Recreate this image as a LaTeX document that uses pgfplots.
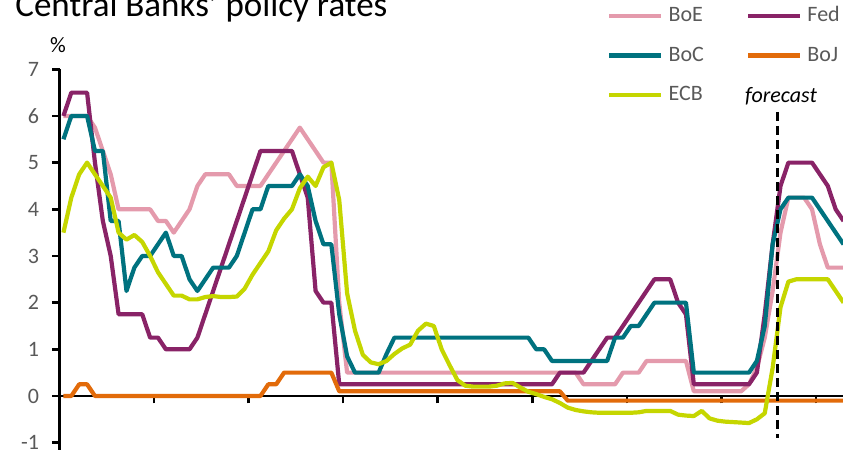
\documentclass[border=0pt]{standalone}
\usepackage{pgfplots}
\pgfplotsset{compat=1.18}
\usepackage{pgfplotstable}
\usepackage{fontspec}
\setmainfont{Carlito}
\definecolor{cboe}{RGB}{228,154,172}
\definecolor{cfed}{RGB}{137,35,103}
\definecolor{cboc}{RGB}{0,114,127}
\definecolor{cboj}{RGB}{226,107,10}
\definecolor{cecb}{RGB}{197,214,0}
\definecolor{tgray}{RGB}{89,89,89}
\pgfplotstableread{
i BoE Fed BoC BoJ ECB
0 6.0 6.0 5.5 0 3.5
1 6.0 6.5 6.0 0 4.25
2 6.0 6.5 6.0 0.25 4.75
3 6.0 6.5 6.0 0.25 5.0
4 5.75 5.0 5.25 0 4.75
5 5.25 3.75 5.25 0 4.5
6 4.75 3.0 3.75 0 4.25
7 4.0 1.75 3.75 0 3.5
8 4.0 1.75 2.25 0 3.35
9 4.0 1.75 2.75 0 3.45
10 4.0 1.75 3.0 0 3.3
11 4.0 1.25 3.0 0 3.0
12 3.75 1.25 3.25 0 2.65
13 3.75 1.0 3.5 0 2.4
14 3.5 1.0 3.0 0 2.15
15 3.75 1.0 3.0 0 2.15
16 4.0 1.0 2.5 0 2.07
17 4.5 1.25 2.25 0 2.07
18 4.75 1.75 2.5 0 2.12
19 4.75 2.25 2.75 0 2.14
20 4.75 2.75 2.75 0 2.12
21 4.75 3.25 2.75 0 2.12
22 4.5 3.75 3.0 0 2.13
23 4.5 4.25 3.5 0 2.3
24 4.5 4.75 4.0 0 2.6
25 4.5 5.25 4.0 0 2.85
26 4.75 5.25 4.5 0.25 3.1
27 5.0 5.25 4.5 0.25 3.55
28 5.25 5.25 4.5 0.5 3.8
29 5.5 5.25 4.5 0.5 4.0
30 5.75 4.75 4.75 0.5 4.45
31 5.5 4.25 4.5 0.5 4.7
32 5.25 2.25 3.75 0.5 4.5
33 5.0 2.0 3.25 0.5 4.9
34 5.0 2.0 3.25 0.5 5.0
35 2.0 0.25 1.75 0.1 4.2
36 0.5 0.25 0.85 0.1 2.2
37 0.5 0.25 0.5 0.1 1.4
38 0.5 0.25 0.5 0.1 0.88
39 0.5 0.25 0.5 0.1 0.72
40 0.5 0.25 0.5 0.1 0.68
41 0.5 0.25 0.9 0.1 0.75
42 0.5 0.25 1.25 0.1 0.9
43 0.5 0.25 1.25 0.1 1.02
44 0.5 0.25 1.25 0.1 1.1
45 0.5 0.25 1.25 0.1 1.4
46 0.5 0.25 1.25 0.1 1.55
47 0.5 0.25 1.25 0.1 1.5
48 0.5 0.25 1.25 0.1 1.0
49 0.5 0.25 1.25 0.1 0.66
50 0.5 0.25 1.25 0.1 0.34
51 0.5 0.25 1.25 0.1 0.22
52 0.5 0.25 1.25 0.1 0.2
53 0.5 0.25 1.25 0.1 0.2
54 0.5 0.25 1.25 0.1 0.2
55 0.5 0.25 1.25 0.1 0.22
56 0.5 0.25 1.25 0.1 0.27
57 0.5 0.25 1.25 0.1 0.28
58 0.5 0.25 1.25 0.1 0.18
59 0.5 0.25 1.25 0.1 0.09
60 0.5 0.25 1.0 0.1 0.04
61 0.5 0.25 1.0 0.1 -0.02
62 0.5 0.25 0.75 0.1 -0.07
63 0.5 0.5 0.75 0.1 -0.15
64 0.5 0.5 0.75 -0.1 -0.25
65 0.5 0.5 0.75 -0.1 -0.3
66 0.25 0.5 0.75 -0.1 -0.33
67 0.25 0.75 0.75 -0.1 -0.35
68 0.25 1.0 0.75 -0.1 -0.36
69 0.25 1.25 0.75 -0.1 -0.36
70 0.25 1.25 1.25 -0.1 -0.36
71 0.5 1.5 1.25 -0.1 -0.36
72 0.5 1.75 1.5 -0.1 -0.36
73 0.5 2.0 1.5 -0.1 -0.35
74 0.75 2.25 1.75 -0.1 -0.32
75 0.75 2.5 2.0 -0.1 -0.32
76 0.75 2.5 2.0 -0.1 -0.32
77 0.75 2.5 2.0 -0.1 -0.32
78 0.75 2.0 2.0 -0.1 -0.4
79 0.75 1.75 2.0 -0.1 -0.42
80 0.1 0.25 0.5 -0.1 -0.43
81 0.1 0.25 0.5 -0.1 -0.32
82 0.1 0.25 0.5 -0.1 -0.48
83 0.1 0.25 0.5 -0.1 -0.53
84 0.1 0.25 0.5 -0.1 -0.55
85 0.1 0.25 0.5 -0.1 -0.56
86 0.1 0.25 0.5 -0.1 -0.57
87 0.25 0.25 0.5 -0.1 -0.58
88 0.6 0.5 0.75 -0.1 -0.5
89 1.25 1.75 1.5 -0.1 -0.37
90 2.25 3.25 3.25 -0.1 0.6
91 3.5 4.5 4.0 -0.1 1.9
92 4.25 5.0 4.25 -0.1 2.45
93 4.25 5.0 4.25 -0.1 2.5
94 4.25 5.0 4.25 -0.1 2.5
95 4.0 5.0 4.25 -0.1 2.5
96 3.25 4.75 4.0 -0.1 2.5
97 2.75 4.5 3.75 -0.1 2.5
98 2.75 4.0 3.5 -0.1 2.25
99 2.75 3.75 3.25 -0.1 2.0
}\rates
\begin{document}
\begin{tikzpicture}
\begin{axis}[
  set layers,
  at={(29.75pt,1.67pt)}, anchor=south west,
  x=3.94pt, y=23.335pt,
  xmin=-0.5, xmax=99.1, ymin=-1.15, ymax=7,
  axis x line*=middle, axis y line*=left,
  hide obscured x ticks=false, hide obscured y ticks=false,
  axis line style={line width=1.4pt, black},
  xtick={11.5,23.5,...,95.5}, xticklabels={},
  ytick={-1,0,1,2,3,4,5,6,7}, yticklabels={-1,0,1,2,3,4,5,6,7},
  tick align=outside, major tick length=3.75pt,
  tick style={line width=1.3pt, black},
  yticklabel style={font=\fontsize{11}{13}\selectfont, text=tgray, xshift=-3pt},
  legend columns=2,
  legend style={
    at={(axis cs:68.98,8.357)}, anchor=north west,
    draw=none, fill=none, inner sep=0pt, outer sep=0pt,
    font=\fontsize{11}{13}\selectfont, text=tgray,
    nodes={inner sep=0pt, text height=8pt, text depth=2pt},
    cells={anchor=west},
    column sep=0pt,
    /tikz/every odd column/.append style={column sep=2.5pt},
    /tikz/every even column/.append style={column sep=21pt},
    row sep=9.75pt,
  },
  legend image code/.code={\draw[#1, line width=2.3pt] (0pt,0pt) -- (26pt,0pt);},
  every axis plot/.append style={line width=2.1pt, line join=round, no markers},
]
\addplot[cboe] table[x=i, y=BoE] {\rates};
\addlegendentry{BoE}
\addplot[cfed] table[x=i, y=Fed] {\rates};
\addlegendentry{Fed}
\addplot[cboc] table[x=i, y=BoC] {\rates};
\addlegendentry{BoC}
\addplot[cboj] table[x=i, y=BoJ] {\rates};
\addlegendentry{BoJ}
\addplot[cecb] table[x=i, y=ECB] {\rates};
\addlegendentry{ECB}
\draw[black, line width=1.35pt, dash pattern=on 4.5pt off 2.5pt] (axis cs:90.64,6.09) -- (axis cs:90.64,-0.9);
\end{axis}
\node[anchor=base west, inner sep=0pt, font=\fontsize{17.5}{20}\selectfont] at (7.5pt,218pt) {Central Banks' policy rates};
\node[inner sep=0pt, font=\fontsize{11}{13}\selectfont] at (29pt,204pt) {\%};
\node[anchor=base, inner sep=0pt, font=\fontsize{11}{13}\selectfont\itshape] at (390.5pt,175.15pt) {forecast};
\pgfresetboundingbox
\useasboundingbox (0,0) rectangle (421.5pt,226.5pt);
\end{tikzpicture}
\end{document}
